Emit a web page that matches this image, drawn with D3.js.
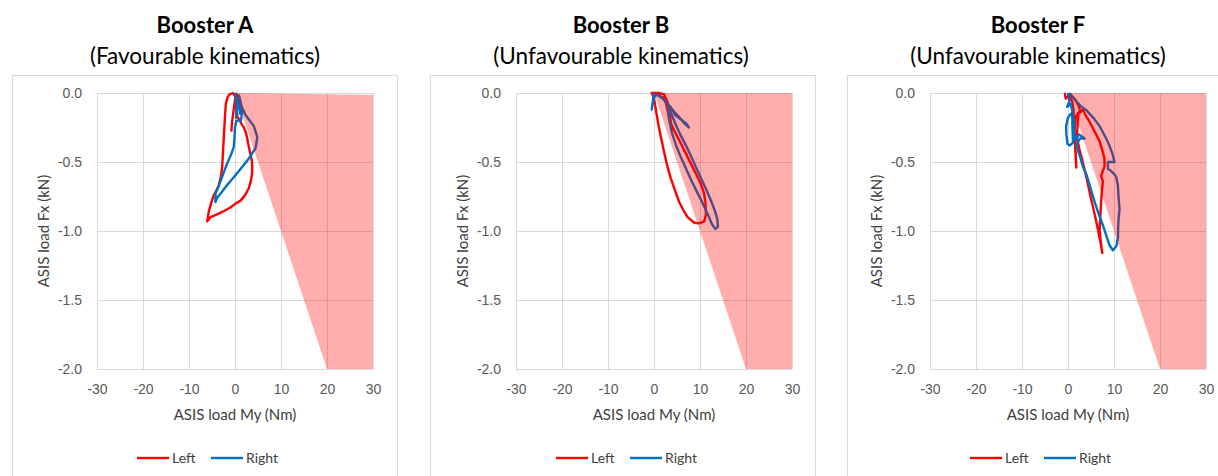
<!DOCTYPE html>
<html>
<head>
<meta charset="utf-8">
<script src="https://cdn.jsdelivr.net/npm/d3@7"></script>
<style>
  body { margin: 0; background: #fff; }
  svg { font-family: Lato, "Open Sans", sans-serif; }
  .grid line { stroke: #d9d9d9; }
  .grid path { display: none; }
  .grid text { fill: #595959; font-size: 14px; }
</style>
</head>
<body>
<div id="chart"></div>
<script>
// chart data: [My (Nm), Fx (kN)]
var titles = ["Booster A", "Booster B", "Booster F"];
var subtitles = ["(Favourable kinematics)", "(Unfavourable kinematics)", "(Unfavourable kinematics)"];
var seriesNames = ["Left", "Right"];
var xTicks = [-30, -20, -10, 0, 10, 20, 30];
var xTickLabels = ["-30", "-20", "-10", "0", "10", "20", "30"];
var yTicks = [0, -0.5, -1, -1.5, -2];
var yTickLabels = ["0.0", "-0.5", "-1.0", "-1.5", "-2.0"];

// shaded zone
var zoneA = [[0, 0], [30, -0.015], [30, -2], [20, -2]];
var zoneB = [[0, 0], [30, 0], [30, -2], [20, -2]];
var zoneF = [[0, 0], [30, 0], [30, -2], [20, -2]];

var leftA = [[-0.8,-0.28],[-0.6,-0.2],[-0.2,-0.1],[0.1,-0.03],[-0.4,0],[-1.2,-0.01],[-1.6,-0.03],[-2.0,-0.08],
  [-2.2,-0.18],[-2.4,-0.3],[-2.6,-0.42],[-2.79,-0.54],[-3.1,-0.61],[-3.53,-0.67],[-4.1,-0.71],[-4.62,-0.74],
  [-5.2,-0.8],[-5.7,-0.86],[-6.05,-0.93],[-5.3,-0.9],[-3.9,-0.88],[-2.4,-0.855],[-1.0,-0.83],[0.2,-0.8],
  [1.2,-0.78],[2.2,-0.74],[3.0,-0.69],[3.5,-0.63],[3.76,-0.57],[3.7,-0.5],[3.4,-0.45],[3.0,-0.39],
  [2.66,-0.33],[2.3,-0.28],[1.9,-0.25],[1.2,-0.21],[0.5,-0.17],[0.3,-0.1],[0.6,-0.03],[0.2,0]];
var rightA = [[0,0],[0.4,-0.08],[0.2,-0.18],[0.7,-0.04],[1.1,-0.15],[0.9,-0.02],[1.6,-0.12],[1.3,-0.2],
  [0.3,-0.2],[0,-0.25],[-0.1,-0.32],[-0.26,-0.39],[-0.9,-0.45],[-1.7,-0.51],[-2.6,-0.59],[-3.5,-0.67],
  [-4.25,-0.73],[-4.25,-0.79],[-3.9,-0.76],[-3.16,-0.73],[-1.8,-0.67],[-0.26,-0.61],[1.2,-0.55],[2.66,-0.49],
  [3.7,-0.44],[4.47,-0.4],[4.85,-0.32],[4.1,-0.24],[3.2,-0.2],[2.3,-0.16],[1.6,-0.11],[1.2,-0.075],[0.8,-0.01]];

var leftB = [[3.9,-0.27],[3.5,-0.17],[3.0,-0.07],[2.2,-0.01],[1.0,0],[-0.5,0],[0,-0.04],[0.4,-0.12],
  [0.9,-0.22],[1.5,-0.32],[2.2,-0.43],[2.9,-0.53],[3.67,-0.62],[4.6,-0.71],[5.48,-0.79],[6.4,-0.85],
  [7.3,-0.9],[8.75,-0.94],[9.8,-0.945],[10.9,-0.93],[11.3,-0.88],[11.2,-0.8],[10.9,-0.73],[10.2,-0.66],
  [9.2,-0.59],[8.0,-0.51],[6.8,-0.43],[5.6,-0.35],[4.5,-0.28],[3.67,-0.22],[3.1,-0.15],[2.5,-0.06],[2.0,-0.02]];
var rightB = [[0,0],[-0.5,-0.12],[-0.1,-0.04],[0.5,-0.01],[1.5,-0.03],[2.5,-0.06],[3.5,-0.1],[4.5,-0.14],
  [5.6,-0.18],[6.6,-0.22],[7.6,-0.25],[7.0,-0.22],[5.8,-0.19],[4.6,-0.16],[3.6,-0.1],[3.0,-0.08],
  [3.2,-0.18],[3.9,-0.29],[4.8,-0.38],[5.9,-0.47],[7.0,-0.55],[8.2,-0.64],[9.4,-0.72],[10.6,-0.8],
  [11.7,-0.88],[12.6,-0.95],[13.3,-0.985],[13.9,-0.97],[13.8,-0.92],[13.3,-0.86],[12.5,-0.79],[11.5,-0.71],
  [10.4,-0.63],[9.3,-0.55],[8.2,-0.47],[7.1,-0.39],[6.0,-0.32],[5.0,-0.25],[4.0,-0.17],[3.0,-0.09],
  [2.0,-0.04],[1.0,-0.01]];

var leftF = [[-0.7,0],[-0.5,-0.04],[0.2,-0.02],[0.9,-0.06],[1.2,-0.12],[1.3,-0.22],[1.5,-0.34],[1.7,-0.45],
  [1.8,-0.54],[1.6,-0.42],[1.4,-0.28],[1.7,-0.17],[2.3,-0.14],[2.1,-0.23],[1.9,-0.32],[2.5,-0.41],
  [3.2,-0.5],[4.0,-0.61],[4.7,-0.72],[5.4,-0.82],[6.0,-0.91],[6.5,-0.99],[7.0,-1.07],[7.45,-1.16],
  [7.1,-1.07],[6.87,-1.0],[7.0,-0.91],[7.2,-0.79],[7.4,-0.7],[7.6,-0.64],[7.2,-0.6],[7.96,-0.53],
  [7.9,-0.47],[7.6,-0.43],[6.87,-0.35],[5.8,-0.28],[4.7,-0.21],[3.8,-0.16],[3.25,-0.12],[2.7,-0.14],
  [2.4,-0.1],[1.6,-0.05],[0.5,-0.01]];
var rightF = [[0,0],[0.3,-0.06],[-0.2,-0.1],[0.6,-0.08],[1.0,-0.14],[0.4,-0.16],[0,-0.18],[-0.4,-0.24],
  [-0.36,-0.3],[-0.1,-0.37],[0.4,-0.38],[1.1,-0.36],[1.0,-0.28],[0.9,-0.15],[1.3,-0.2],[1.4,-0.3],
  [1.6,-0.34],[2.4,-0.3],[3.6,-0.33],[2.6,-0.33],[1.8,-0.38],[2.6,-0.46],[3.3,-0.54],[4.0,-0.59],
  [4.9,-0.69],[5.8,-0.79],[6.7,-0.88],[7.6,-0.96],[8.3,-1.03],[9.0,-1.1],[9.75,-1.14],[10.5,-1.11],
  [10.85,-1.05],[10.9,-0.98],[11.0,-0.91],[11.2,-0.84],[11.0,-0.76],[10.85,-0.67],[10.5,-0.61],[10.1,-0.59],
  [9.2,-0.56],[8.67,-0.55],[8.67,-0.5],[10.1,-0.5],[9.76,-0.45],[9.0,-0.38],[8.3,-0.33],[6.87,-0.24],
  [5.5,-0.18],[4.0,-0.125],[2.9,-0.1],[1.8,-0.06],[1.0,-0.03],[0.3,0]];

var panels = [
  {left: leftA, right: rightA, zone: zoneA},
  {left: leftB, right: rightB, zone: zoneB},
  {left: leftF, right: rightF, zone: zoneF}
];

// layout
var W = 1218, H = 476;
var plotLeft = [97, 516, 930],
    plotTop = 93,
    plotW = 276,
    plotH = 276;
var boxLeft = [12, 430, 847], boxW = 385;
var titleX = [205, 621, 1038];
var colors = {Left: "#ff0000", Right: "#0070c0"};

var svg = d3.select("#chart")
    .append("svg")
    .attr("width", W)
    .attr("height", H);

panels.forEach(function(p, i) {
    // chart frame
    svg.append("rect")
        .attr("x", boxLeft[i] + 0.5)
        .attr("y", 75.5)
        .attr("width", boxW)
        .attr("height", 420)
        .attr("fill", "none")
        .attr("stroke", "#d9d9d9");

    svg.append("text")
        .attr("x", titleX[i]).attr("y", 33)
        .attr("text-anchor", "middle")
        .style("font-size", "22px").style("font-weight", "bold")
        .text(titles[i]);
    svg.append("text")
        .attr("x", titleX[i]).attr("y", 64)
        .attr("text-anchor", "middle")
        .style("font-size", "22.5px")
        .text(subtitles[i]);

    var g = svg.append("g")
        .attr("transform", "translate(" + plotLeft[i] + "," + plotTop + ")");

    var x = d3.scaleLinear().domain([-30, 30]).range([0, plotW]);
    var y = d3.scaleLinear().domain([-2, 0]).range([plotH, 0]);

    g.append("g")
        .attr("class", "grid")
        .attr("transform", "translate(0," + plotH + ")")
        .call(d3.axisBottom(x).tickValues(xTicks).tickSize(-plotH).tickPadding(15)
            .tickFormat(function(d, j) { return xTickLabels[j]; }));

    g.append("g")
        .attr("class", "grid")
        .call(d3.axisLeft(y).tickValues(yTicks).tickSize(-plotW).tickPadding(15)
            .tickFormat(function(d, j) { return yTickLabels[j]; }));

    var line = d3.line()
        .x(function(d) { return x(d[0]); })
        .y(function(d) { return y(d[1]); });

    g.append("path").datum(p.left)
        .attr("d", line).attr("fill", "none")
        .attr("stroke", colors.Left).attr("stroke-width", 2.4)
        .attr("stroke-linejoin", "round");
    g.append("path").datum(p.right)
        .attr("d", line).attr("fill", "none")
        .attr("stroke", colors.Right).attr("stroke-width", 2.4)
        .attr("stroke-linejoin", "round");

    // zone sits over the traces, like the source
    g.append("path").datum(p.zone)
        .attr("d", d3.line().x(function(d) { return x(d[0]); }).y(function(d) { return y(d[1]); }).curve(d3.curveLinearClosed))
        .attr("fill", "rgb(255,0,0)")
        .attr("fill-opacity", 0.32);

    // axis titles
    g.append("text")
        .attr("x", plotW / 2).attr("y", plotH + 51)
        .attr("text-anchor", "middle")
        .style("font-size", "15px").style("fill", "#404040")
        .text("ASIS load My (Nm)");
    g.append("text")
        .attr("transform", "rotate(-90)")
        .attr("x", -plotH / 2).attr("y", -48)
        .attr("text-anchor", "middle")
        .style("font-size", "15px").style("fill", "#404040")
        .text("ASIS load Fx (kN)");

    // legend
    var lx = plotW / 2 - 98, ly = 365;
    seriesNames.forEach(function(name, k) {
        var ox = lx + k * 74;
        g.append("line")
            .attr("x1", ox).attr("x2", ox + 32)
            .attr("y1", ly).attr("y2", ly)
            .attr("stroke", colors[name]).attr("stroke-width", 2.4);
        g.append("text")
            .attr("x", ox + 35).attr("y", ly + 5)
            .style("font-size", "14px").style("fill", "#404040")
            .text(name);
    });
});
</script>
</body>
</html>
